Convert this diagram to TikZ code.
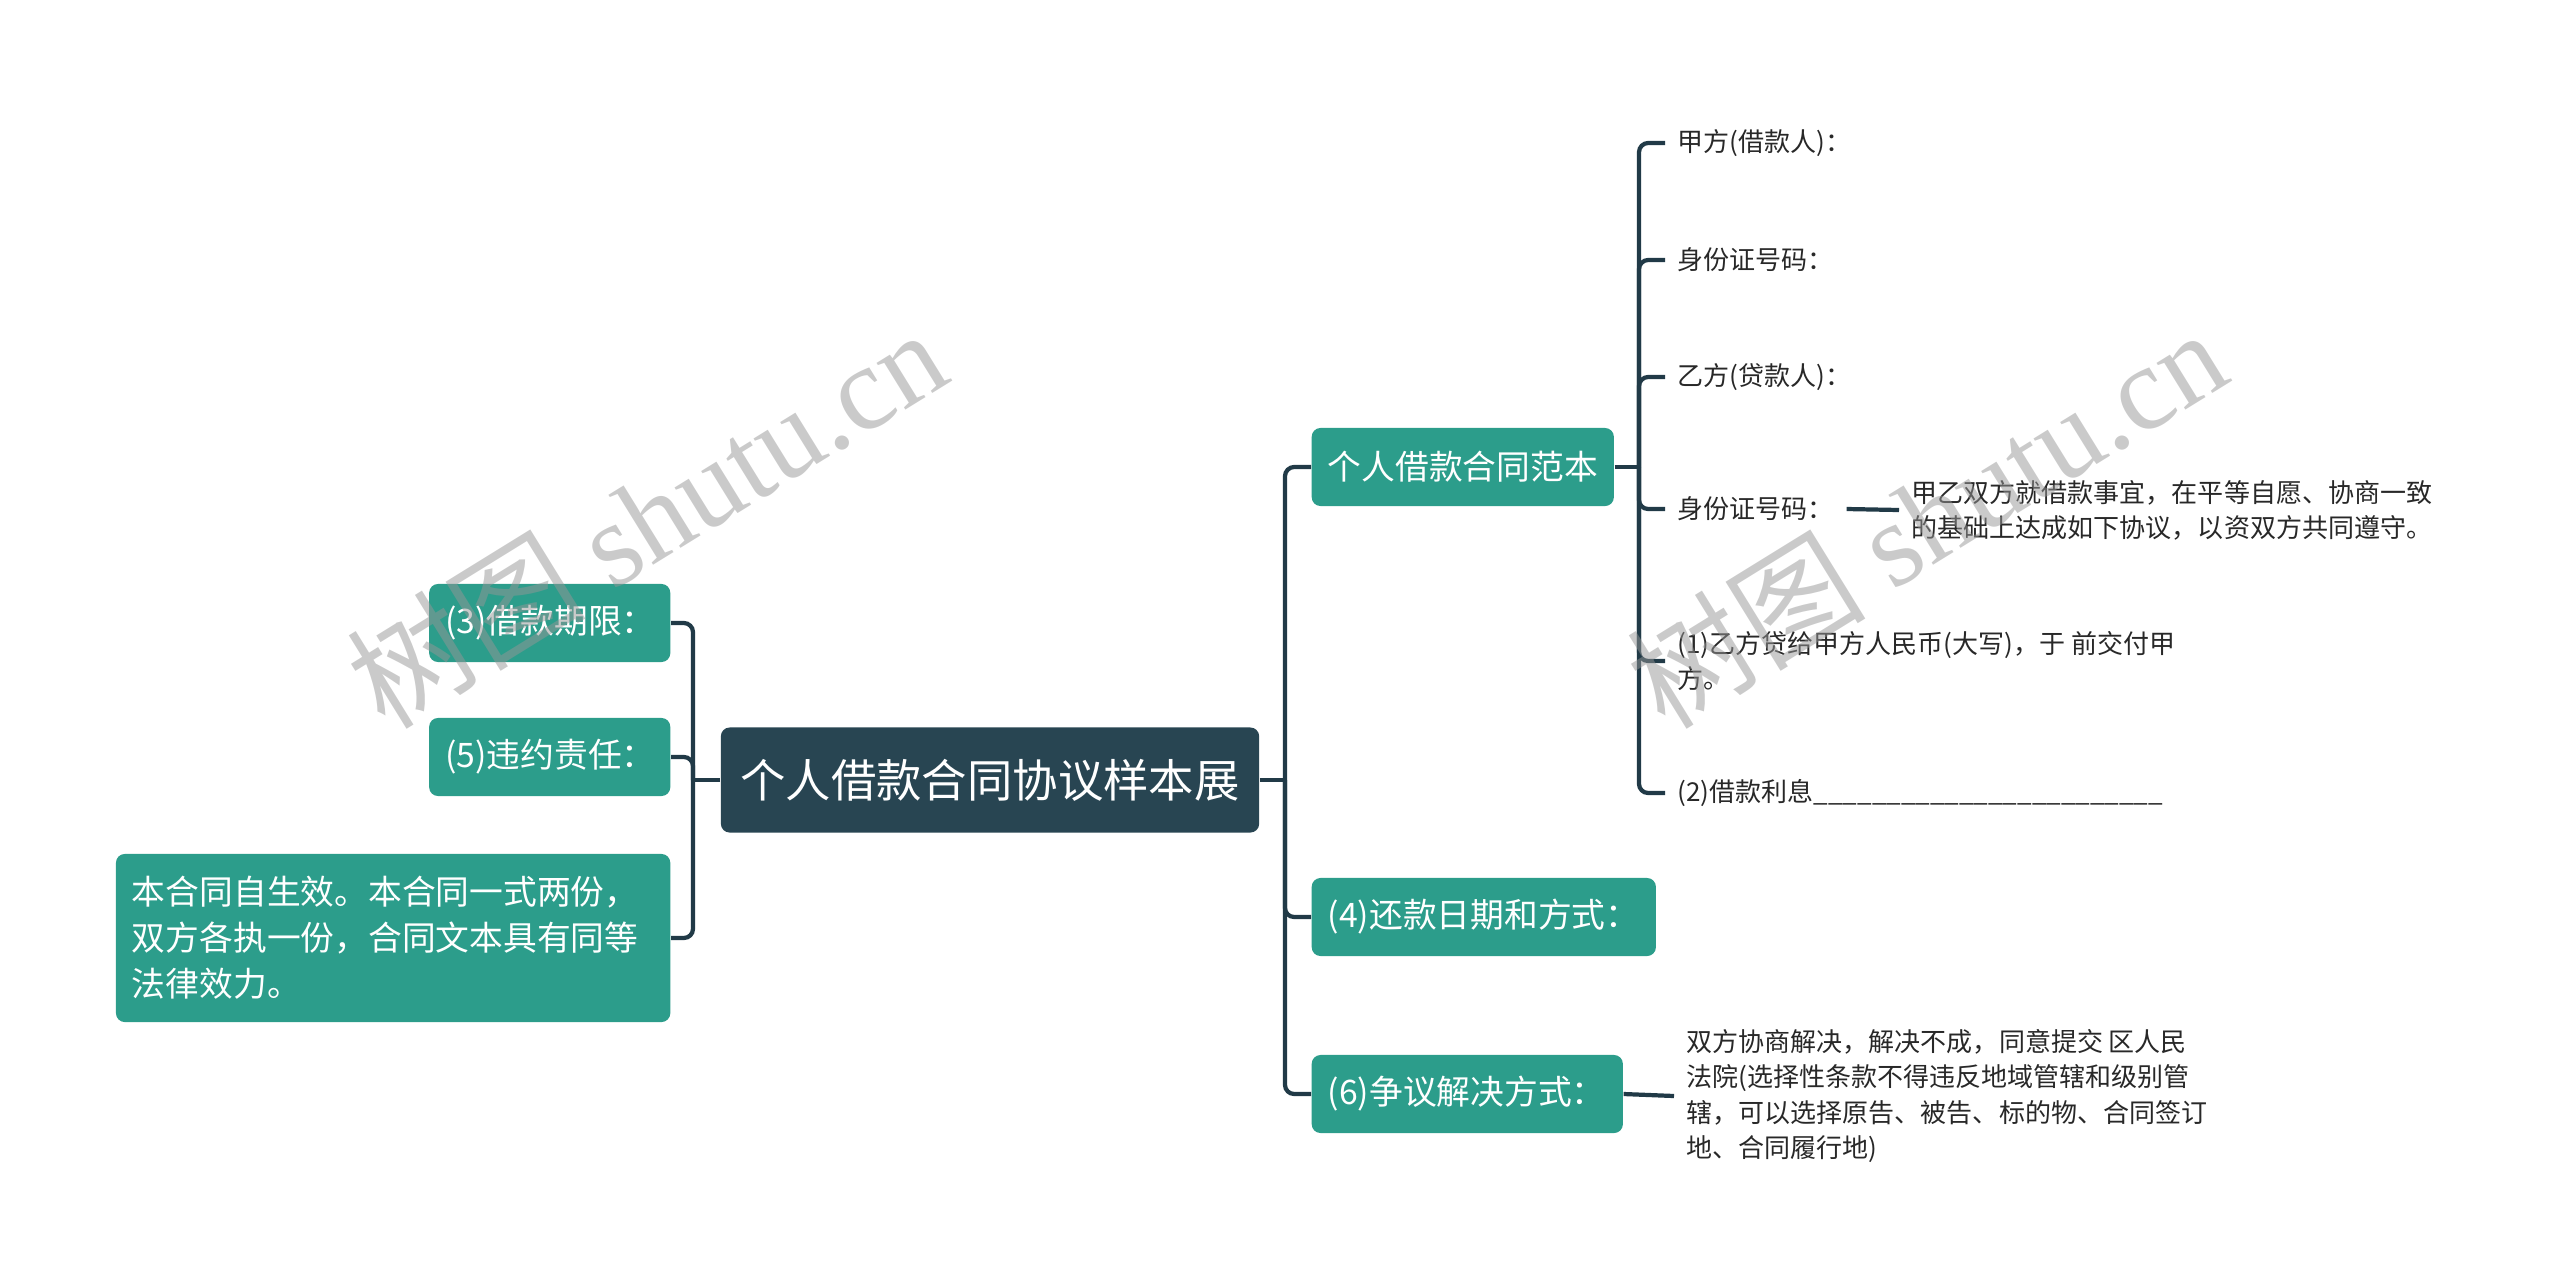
\documentclass[tikz,border=0pt]{standalone}
\usepackage{fontspec}
\setmainfont{Noto Sans CJK SC}
\newfontfamily\wmserif{Liberation Serif}
\usepackage{xcolor}
\usepackage{tikz}
\usetikzlibrary{positioning, calc}
\definecolor{mydark}{RGB}{40,69,82}
\definecolor{myteal}{RGB}{44,157,139}
\definecolor{myline}{RGB}{33,58,71}
\definecolor{mytext}{RGB}{40,40,40}
\definecolor{mywater}{RGB}{150,150,150}
\tikzset{
  rootnode/.style={rectangle, fill=mydark, text=white,
    minimum width=5.38cm, minimum height=1.05cm,
    font=\fontsize{12.9pt}{15pt}\selectfont, rounded corners=2.5pt},
  topicnode/.style={rectangle, fill=myteal, text=white, align=left,
    inner xsep=0.16cm, minimum height=0.78cm,
    font=\fontsize{9.6pt}{13.1pt}\selectfont, rounded corners=2.5pt},
  leafnode/.style={inner xsep=0.12cm, inner ysep=0pt, align=left,
    text=mytext, font=\fontsize{7.4pt}{10pt}\selectfont},
  branch/.style={line width=1.2pt, color=myline, rounded corners=2.6pt},
  stub/.style={line width=1.2pt, color=myline},
  watermark/.style={text=mywater, opacity=0.5, rotate=31.7,
    font=\fontsize{34pt}{34pt}\selectfont}
}

\begin{document}
\begin{tikzpicture}[x=0.01cm, y=-0.01cm]
  \useasboundingbox (0,0) rectangle (2560,1287);

  % Root
  \node[rootnode] (root) at (990,780) {个人借款合同协议样本展};
  \coordinate (rtr) at (1285,780);
  \coordinate (ltr) at (693,780);

  % Right topics
  \node[topicnode, anchor=west, text width=2.70cm] (fanben) at (1311,467) {个人借款合同范本};
  \node[topicnode, anchor=west, text width=3.12cm] (repay) at (1311,917) {(4)还款日期和方式：};
  \node[topicnode, anchor=west, text width=2.79cm] (dispute) at (1311,1094) {(6)争议解决方式：};

  % Left topics
  \node[topicnode, anchor=east, text width=2.09cm] (term) at (671,623) {(3)借款期限：};
  \node[topicnode, anchor=east, text width=2.09cm] (breach) at (671,757) {(5)违约责任：};
  \node[topicnode, anchor=east, text width=5.22cm, minimum height=1.68cm] (effect) at (671,938)
    {本合同自生效。本合同一式两份，\\双方各执一份，合同文本具有同等\\法律效力。};

  % Leaves of the sample contract
  \coordinate (ftr) at (1639,467);
  \node[leafnode, anchor=west] (partya) at (1665,143) {甲方(借款人)：};
  \node[leafnode, anchor=west] (ida) at (1665,260) {身份证号码：};
  \node[leafnode, anchor=west] (partyb) at (1665,377) {乙方(贷款人)：};
  \node[leafnode, anchor=west] (idb) at (1665,509) {身份证号码：};
  \node[leafnode, anchor=west] (agree) at (1899,510)
    {甲乙双方就借款事宜，在平等自愿、协商一致\\的基础上达成如下协议，以资双方共同遵守。};
  \node[leafnode, anchor=west] (itema) at (1665,661)
    {(1)乙方贷给甲方人民币(大写)，于 前交付甲\\方。};
  \node[leafnode, anchor=west] (itemb) at (1665,793)
    {(2)借款利息\_\_\_\_\_\_\_\_\_\_\_\_\_\_\_\_\_\_\_\_\_\_\_\_};
  \node[leafnode, anchor=west] (court) at (1674,1096)
    {双方协商解决，解决不成，同意提交 区人民\\法院(选择性条款不得违反地域管辖和级别管\\辖，可以选择原告、被告、标的物、合同签订\\地、合同履行地)};

  % Connectors
  \draw[stub] (root.east) -- (rtr);
  \draw[stub] (root.west) -- (ltr);
  \foreach \n in {fanben, repay, dispute}
    \draw[branch] (rtr) |- (\n.west);
  \foreach \n in {term, breach, effect}
    \draw[branch] (ltr) |- (\n.east);
  \draw[stub] (fanben.east) -- (ftr);
  \foreach \n in {partya, ida, partyb, idb, itema, itemb}
    \draw[branch] (ftr) |- (\n.west);
  \draw[stub] (idb.east) -- (agree.west);
  \draw[stub] (dispute.east) -- (court.west);

  % Watermarks
  \node[watermark] (wmleft) at (646,517) {树图 {\wmserif shutu.cn}};
  \node[watermark] (wmright) at (1926,517) {树图 {\wmserif shutu.cn}};
\end{tikzpicture}
\end{document}
